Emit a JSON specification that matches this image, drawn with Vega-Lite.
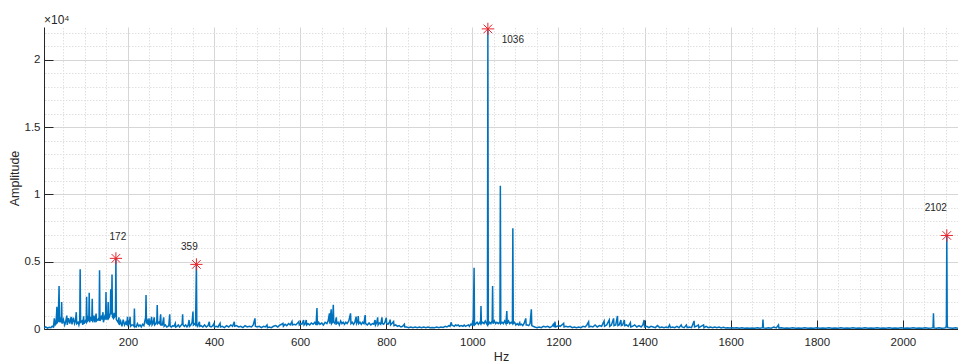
{
  "$schema": "https://vega.github.io/schema/vega-lite/v6.json",
  "width": 914,
  "height": 302,
  "autosize": {"type": "none"},
  "padding": {"left": 44, "top": 27, "right": 0, "bottom": 32},
  "background": "white",
  "title": {"text": "×10⁴", "anchor": "start", "frame": "group", "fontSize": 12, "fontWeight": "normal", "font": "Liberation Sans", "color": "#262626", "offset": -6},
  "config": {"view": {"stroke": null}, "font": "Liberation Sans"},
  "resolve": {"axis": {"x": "independent", "y": "independent"}},
  "datasets": {
    "spec": [
      {"f":5,"a":80},{"f":9,"a":150},{"f":13,"a":60},{"f":17,"a":120},{"f":21,"a":90},{"f":24,"a":200},{"f":27,"a":150},{"f":29,"a":800},{"f":31,"a":300},{"f":33,"a":400},{"f":35,"a":1650},{"f":36,"a":500},{"f":38,"a":600},{"f":40,"a":3200},{"f":41,"a":500},{"f":43,"a":700},{"f":45,"a":500},{"f":46,"a":2000},{"f":47,"a":400},{"f":50,"a":700},{"f":53,"a":300},{"f":55,"a":500},{"f":58,"a":1000},{"f":59,"a":300},{"f":62,"a":800},{"f":65,"a":400},{"f":68,"a":900},{"f":70,"a":350},{"f":73,"a":850},{"f":76,"a":400},{"f":78,"a":600},{"f":80,"a":1250},{"f":81,"a":400},{"f":84,"a":500},{"f":86,"a":300},{"f":88,"a":600},{"f":89,"a":4430},{"f":90,"a":500},{"f":93,"a":600},{"f":95,"a":300},{"f":97,"a":950},{"f":98,"a":400},{"f":101,"a":600},{"f":103,"a":500},{"f":104,"a":2400},{"f":105,"a":500},{"f":107,"a":800},{"f":109,"a":600},{"f":110,"a":2700},{"f":111,"a":500},{"f":114,"a":900},{"f":116,"a":600},{"f":117,"a":2250},{"f":118,"a":500},{"f":121,"a":1000},{"f":123,"a":500},{"f":126,"a":1150},{"f":127,"a":600},{"f":130,"a":700},{"f":132,"a":800},{"f":133,"a":600},{"f":134,"a":4360},{"f":135,"a":600},{"f":138,"a":900},{"f":140,"a":700},{"f":142,"a":1250},{"f":143,"a":500},{"f":146,"a":900},{"f":148,"a":700},{"f":149,"a":2750},{"f":150,"a":700},{"f":152,"a":1000},{"f":153,"a":700},{"f":154,"a":2000},{"f":155,"a":800},{"f":157,"a":900},{"f":159,"a":1200},{"f":160,"a":2950},{"f":161,"a":1100},{"f":162,"a":1200},{"f":163,"a":4050},{"f":164,"a":900},{"f":166,"a":800},{"f":168,"a":1200},{"f":169,"a":900},{"f":171,"a":1000},{"f":172,"a":5250},{"f":173,"a":700},{"f":175,"a":600},{"f":177,"a":500},{"f":179,"a":870},{"f":180,"a":300},{"f":183,"a":600},{"f":186,"a":200},{"f":189,"a":700},{"f":192,"a":300},{"f":195,"a":500},{"f":197,"a":300},{"f":199,"a":900},{"f":200,"a":300},{"f":203,"a":400},{"f":205,"a":900},{"f":206,"a":200},{"f":209,"a":300},{"f":212,"a":300},{"f":214,"a":200},{"f":215,"a":1530},{"f":216,"a":200},{"f":219,"a":150},{"f":222,"a":400},{"f":225,"a":200},{"f":228,"a":300},{"f":231,"a":150},{"f":234,"a":350},{"f":237,"a":250},{"f":240,"a":700},{"f":241,"a":600},{"f":242,"a":2520},{"f":243,"a":400},{"f":245,"a":600},{"f":247,"a":300},{"f":249,"a":800},{"f":250,"a":300},{"f":252,"a":400},{"f":255,"a":900},{"f":256,"a":300},{"f":258,"a":400},{"f":261,"a":870},{"f":262,"a":300},{"f":265,"a":400},{"f":267,"a":600},{"f":268,"a":1780},{"f":269,"a":400},{"f":272,"a":500},{"f":274,"a":400},{"f":276,"a":1100},{"f":277,"a":300},{"f":280,"a":300},{"f":283,"a":870},{"f":284,"a":200},{"f":287,"a":300},{"f":290,"a":150},{"f":293,"a":200},{"f":295,"a":300},{"f":297,"a":1100},{"f":298,"a":200},{"f":301,"a":150},{"f":304,"a":250},{"f":307,"a":200},{"f":310,"a":420},{"f":311,"a":150},{"f":314,"a":200},{"f":317,"a":300},{"f":320,"a":150},{"f":323,"a":250},{"f":326,"a":400},{"f":327,"a":1090},{"f":328,"a":300},{"f":331,"a":200},{"f":334,"a":300},{"f":337,"a":150},{"f":340,"a":300},{"f":342,"a":670},{"f":343,"a":200},{"f":346,"a":300},{"f":349,"a":500},{"f":351,"a":1290},{"f":352,"a":300},{"f":355,"a":400},{"f":357,"a":300},{"f":359,"a":4800},{"f":360,"a":300},{"f":362,"a":200},{"f":366,"a":540},{"f":367,"a":200},{"f":370,"a":250},{"f":374,"a":150},{"f":378,"a":300},{"f":382,"a":150},{"f":386,"a":250},{"f":389,"a":540},{"f":390,"a":200},{"f":393,"a":150},{"f":397,"a":250},{"f":400,"a":420},{"f":401,"a":150},{"f":405,"a":200},{"f":409,"a":150},{"f":414,"a":420},{"f":415,"a":150},{"f":419,"a":200},{"f":424,"a":100},{"f":429,"a":250},{"f":434,"a":150},{"f":439,"a":300},{"f":443,"a":200},{"f":447,"a":540},{"f":448,"a":200},{"f":452,"a":250},{"f":457,"a":150},{"f":462,"a":200},{"f":467,"a":100},{"f":472,"a":250},{"f":477,"a":150},{"f":482,"a":200},{"f":487,"a":150},{"f":491,"a":300},{"f":495,"a":790},{"f":496,"a":200},{"f":500,"a":150},{"f":505,"a":200},{"f":510,"a":100},{"f":515,"a":200},{"f":519,"a":150},{"f":523,"a":300},{"f":524,"a":100},{"f":528,"a":150},{"f":533,"a":100},{"f":538,"a":200},{"f":543,"a":250},{"f":548,"a":150},{"f":553,"a":300},{"f":557,"a":350},{"f":560,"a":420},{"f":561,"a":200},{"f":565,"a":350},{"f":569,"a":250},{"f":573,"a":400},{"f":577,"a":300},{"f":581,"a":550},{"f":582,"a":300},{"f":586,"a":350},{"f":590,"a":300},{"f":593,"a":400},{"f":597,"a":550},{"f":598,"a":300},{"f":601,"a":400},{"f":604,"a":350},{"f":608,"a":670},{"f":609,"a":300},{"f":612,"a":400},{"f":614,"a":670},{"f":615,"a":300},{"f":618,"a":400},{"f":622,"a":300},{"f":626,"a":450},{"f":630,"a":350},{"f":634,"a":500},{"f":637,"a":300},{"f":639,"a":1560},{"f":640,"a":300},{"f":643,"a":500},{"f":646,"a":350},{"f":650,"a":450},{"f":654,"a":300},{"f":658,"a":500},{"f":662,"a":400},{"f":665,"a":600},{"f":668,"a":1160},{"f":669,"a":400},{"f":672,"a":1460},{"f":673,"a":400},{"f":675,"a":500},{"f":677,"a":1800},{"f":678,"a":500},{"f":681,"a":400},{"f":684,"a":870},{"f":685,"a":400},{"f":688,"a":500},{"f":691,"a":300},{"f":694,"a":600},{"f":697,"a":400},{"f":700,"a":500},{"f":703,"a":350},{"f":706,"a":500},{"f":709,"a":400},{"f":713,"a":600},{"f":717,"a":1160},{"f":718,"a":400},{"f":721,"a":500},{"f":724,"a":350},{"f":727,"a":500},{"f":730,"a":920},{"f":731,"a":400},{"f":734,"a":600},{"f":735,"a":960},{"f":736,"a":400},{"f":739,"a":500},{"f":742,"a":350},{"f":745,"a":500},{"f":748,"a":400},{"f":751,"a":1030},{"f":752,"a":400},{"f":756,"a":300},{"f":760,"a":450},{"f":764,"a":300},{"f":768,"a":400},{"f":771,"a":350},{"f":774,"a":670},{"f":775,"a":300},{"f":778,"a":500},{"f":780,"a":870},{"f":781,"a":300},{"f":784,"a":450},{"f":787,"a":350},{"f":790,"a":870},{"f":791,"a":400},{"f":794,"a":350},{"f":797,"a":500},{"f":800,"a":840},{"f":801,"a":400},{"f":804,"a":350},{"f":808,"a":550},{"f":809,"a":700},{"f":810,"a":300},{"f":814,"a":450},{"f":817,"a":560},{"f":818,"a":250},{"f":822,"a":300},{"f":826,"a":200},{"f":830,"a":250},{"f":834,"a":150},{"f":838,"a":200},{"f":842,"a":350},{"f":843,"a":150},{"f":847,"a":150},{"f":852,"a":100},{"f":857,"a":150},{"f":862,"a":100},{"f":867,"a":150},{"f":872,"a":100},{"f":877,"a":150},{"f":882,"a":100},{"f":887,"a":150},{"f":892,"a":100},{"f":897,"a":150},{"f":902,"a":100},{"f":907,"a":120},{"f":912,"a":100},{"f":917,"a":150},{"f":922,"a":100},{"f":927,"a":150},{"f":932,"a":120},{"f":937,"a":200},{"f":941,"a":150},{"f":945,"a":250},{"f":948,"a":200},{"f":951,"a":500},{"f":952,"a":300},{"f":955,"a":250},{"f":958,"a":200},{"f":961,"a":300},{"f":964,"a":250},{"f":967,"a":300},{"f":970,"a":200},{"f":974,"a":250},{"f":978,"a":200},{"f":981,"a":300},{"f":984,"a":200},{"f":987,"a":250},{"f":991,"a":300},{"f":993,"a":200},{"f":996,"a":350},{"f":999,"a":300},{"f":1001,"a":600},{"f":1002,"a":250},{"f":1004,"a":4550},{"f":1005,"a":300},{"f":1008,"a":400},{"f":1011,"a":500},{"f":1014,"a":350},{"f":1017,"a":500},{"f":1019,"a":400},{"f":1020,"a":1710},{"f":1021,"a":400},{"f":1024,"a":500},{"f":1027,"a":400},{"f":1030,"a":600},{"f":1033,"a":400},{"f":1035,"a":300},{"f":1036,"a":22300},{"f":1037,"a":300},{"f":1040,"a":500},{"f":1043,"a":400},{"f":1046,"a":600},{"f":1047,"a":3200},{"f":1048,"a":400},{"f":1051,"a":600},{"f":1054,"a":400},{"f":1057,"a":500},{"f":1060,"a":400},{"f":1063,"a":500},{"f":1064,"a":400},{"f":1065,"a":10650},{"f":1066,"a":400},{"f":1069,"a":500},{"f":1072,"a":400},{"f":1075,"a":600},{"f":1078,"a":400},{"f":1080,"a":1340},{"f":1081,"a":400},{"f":1084,"a":600},{"f":1087,"a":400},{"f":1090,"a":500},{"f":1093,"a":400},{"f":1094,"a":7480},{"f":1095,"a":400},{"f":1098,"a":500},{"f":1101,"a":300},{"f":1104,"a":400},{"f":1107,"a":300},{"f":1110,"a":470},{"f":1111,"a":300},{"f":1114,"a":350},{"f":1117,"a":250},{"f":1120,"a":400},{"f":1124,"a":790},{"f":1125,"a":300},{"f":1128,"a":300},{"f":1131,"a":250},{"f":1134,"a":400},{"f":1137,"a":1460},{"f":1138,"a":250},{"f":1141,"a":200},{"f":1145,"a":150},{"f":1150,"a":100},{"f":1155,"a":150},{"f":1160,"a":100},{"f":1165,"a":200},{"f":1170,"a":150},{"f":1175,"a":200},{"f":1180,"a":100},{"f":1185,"a":200},{"f":1188,"a":350},{"f":1190,"a":150},{"f":1192,"a":540},{"f":1193,"a":150},{"f":1197,"a":200},{"f":1200,"a":250},{"f":1204,"a":200},{"f":1208,"a":300},{"f":1212,"a":420},{"f":1213,"a":150},{"f":1217,"a":200},{"f":1222,"a":150},{"f":1227,"a":200},{"f":1232,"a":100},{"f":1237,"a":150},{"f":1242,"a":100},{"f":1247,"a":150},{"f":1252,"a":100},{"f":1257,"a":200},{"f":1262,"a":150},{"f":1266,"a":300},{"f":1270,"a":540},{"f":1271,"a":150},{"f":1275,"a":200},{"f":1280,"a":150},{"f":1285,"a":300},{"f":1290,"a":150},{"f":1295,"a":250},{"f":1300,"a":200},{"f":1306,"a":590},{"f":1307,"a":200},{"f":1312,"a":300},{"f":1318,"a":670},{"f":1319,"a":200},{"f":1323,"a":300},{"f":1328,"a":790},{"f":1329,"a":250},{"f":1333,"a":300},{"f":1337,"a":970},{"f":1338,"a":250},{"f":1341,"a":300},{"f":1345,"a":670},{"f":1346,"a":250},{"f":1349,"a":300},{"f":1353,"a":670},{"f":1354,"a":250},{"f":1358,"a":300},{"f":1362,"a":200},{"f":1367,"a":470},{"f":1368,"a":150},{"f":1372,"a":200},{"f":1377,"a":300},{"f":1382,"a":150},{"f":1387,"a":250},{"f":1392,"a":150},{"f":1396,"a":300},{"f":1399,"a":670},{"f":1400,"a":150},{"f":1405,"a":200},{"f":1410,"a":100},{"f":1415,"a":200},{"f":1420,"a":150},{"f":1425,"a":100},{"f":1430,"a":250},{"f":1435,"a":100},{"f":1440,"a":150},{"f":1445,"a":100},{"f":1450,"a":150},{"f":1455,"a":100},{"f":1458,"a":300},{"f":1460,"a":100},{"f":1465,"a":150},{"f":1470,"a":100},{"f":1475,"a":200},{"f":1480,"a":100},{"f":1485,"a":300},{"f":1487,"a":150},{"f":1492,"a":100},{"f":1497,"a":300},{"f":1499,"a":100},{"f":1504,"a":150},{"f":1509,"a":100},{"f":1515,"a":600},{"f":1516,"a":150},{"f":1520,"a":200},{"f":1525,"a":300},{"f":1526,"a":100},{"f":1531,"a":200},{"f":1537,"a":300},{"f":1538,"a":100},{"f":1543,"a":200},{"f":1548,"a":100},{"f":1553,"a":150},{"f":1558,"a":100},{"f":1563,"a":150},{"f":1568,"a":100},{"f":1573,"a":150},{"f":1578,"a":80},{"f":1583,"a":120},{"f":1588,"a":80},{"f":1593,"a":100},{"f":1598,"a":80},{"f":1603,"a":100},{"f":1608,"a":80},{"f":1614,"a":100},{"f":1620,"a":60},{"f":1626,"a":100},{"f":1632,"a":60},{"f":1638,"a":80},{"f":1644,"a":60},{"f":1650,"a":80},{"f":1656,"a":60},{"f":1662,"a":100},{"f":1668,"a":60},{"f":1674,"a":100},{"f":1675,"a":700},{"f":1676,"a":80},{"f":1682,"a":60},{"f":1688,"a":100},{"f":1694,"a":60},{"f":1700,"a":150},{"f":1706,"a":80},{"f":1711,"a":300},{"f":1712,"a":80},{"f":1718,"a":100},{"f":1724,"a":60},{"f":1730,"a":80},{"f":1737,"a":60},{"f":1744,"a":100},{"f":1751,"a":60},{"f":1758,"a":80},{"f":1765,"a":60},{"f":1772,"a":100},{"f":1779,"a":60},{"f":1786,"a":80},{"f":1793,"a":60},{"f":1800,"a":100},{"f":1807,"a":60},{"f":1814,"a":80},{"f":1821,"a":60},{"f":1828,"a":100},{"f":1835,"a":60},{"f":1842,"a":80},{"f":1849,"a":60},{"f":1856,"a":100},{"f":1863,"a":60},{"f":1870,"a":80},{"f":1877,"a":60},{"f":1884,"a":100},{"f":1891,"a":60},{"f":1898,"a":80},{"f":1905,"a":60},{"f":1912,"a":100},{"f":1919,"a":60},{"f":1926,"a":80},{"f":1933,"a":60},{"f":1940,"a":100},{"f":1947,"a":60},{"f":1954,"a":80},{"f":1961,"a":60},{"f":1968,"a":100},{"f":1975,"a":60},{"f":1982,"a":80},{"f":1989,"a":60},{"f":1996,"a":100},{"f":2003,"a":60},{"f":2010,"a":80},{"f":2017,"a":60},{"f":2024,"a":100},{"f":2031,"a":60},{"f":2038,"a":80},{"f":2045,"a":60},{"f":2052,"a":100},{"f":2059,"a":60},{"f":2066,"a":80},{"f":2070,"a":100},{"f":2071,"a":1160},{"f":2072,"a":80},{"f":2078,"a":60},{"f":2084,"a":100},{"f":2090,"a":60},{"f":2096,"a":80},{"f":2100,"a":100},{"f":2101,"a":300},{"f":2102,"a":6950},{"f":2103,"a":300},{"f":2104,"a":100},{"f":2110,"a":80},{"f":2116,"a":60},{"f":2122,"a":100},{"f":2128,"a":60}
    ],
    "peaks": [
      {"f":172,"a":5250,"label":"172"},
      {"f":359,"a":4800,"label":"359"},
      {"f":1036,"a":22300,"label":"1036"},
      {"f":2102,"a":6950,"label":"2102"}
    ]
  },
  "layer": [
    {
      "data": {"name": "spec"},
      "mark": {"type": "line", "color": "#0072BD", "strokeWidth": 1.5, "clip": true},
      "encoding": {
        "x": {
          "field": "f", "type": "quantitative",
          "scale": {"domain": [5, 2128], "nice": false, "zero": false},
          "axis": {
            "orient": "bottom",
            "title": "Hz",
            "values": [200,400,600,800,1000,1200,1400,1600,1800,2000],
            "format": "d",
            "labelOverlap": false,
            "labelFontSize": 11.5, "labelColor": "#262626", "labelFont": "Liberation Sans",
            "labelPadding": 16,
            "tickSize": -9, "tickColor": "#262626",
            "domainColor": "#262626",
            "grid": true, "gridColor": "#d6d6d6",
            "titleFontSize": 12.5, "titleFontWeight": "normal", "titleColor": "#262626", "titleFont": "Liberation Sans",
            "titlePadding": 3
          }
        },
        "y": {
          "field": "a", "type": "quantitative",
          "scale": {"domain": [0, 22440], "nice": false},
          "axis": {
            "orient": "left",
            "title": "Amplitude",
            "values": [0,5000,10000,15000,20000],
            "labelExpr": "'' + (datum.value / 10000)",
            "labelOverlap": false,
            "labelFontSize": 11.5, "labelColor": "#262626", "labelFont": "Liberation Sans",
            "labelPadding": 13,
            "tickSize": -9, "tickColor": "#262626",
            "domainColor": "#262626",
            "grid": true, "gridColor": "#d6d6d6",
            "titleFontSize": 12.5, "titleFontWeight": "normal", "titleColor": "#262626", "titleFont": "Liberation Sans",
            "titlePadding": 3
          }
        }
      }
    },
    {
      "data": {"name": "peaks"},
      "mark": {"type": "point", "shape": "M-1,0L1,0M0,-1L0,1M-0.7,-0.7L0.7,0.7M-0.7,0.7L0.7,-0.7", "size": 150, "stroke": "#e8242b", "strokeWidth": 1, "filled": false, "opacity": 1},
      "encoding": {
        "x": {
          "field": "f", "type": "quantitative",
          "axis": {
            "orient": "top",
            "values": [50,100,150,250,300,350,450,500,550,650,700,750,850,900,950,1050,1100,1150,1250,1300,1350,1450,1500,1550,1650,1700,1750,1850,1900,1950,2050,2100],
            "labels": false, "ticks": false, "domain": false, "title": null,
            "grid": true, "gridColor": "#e0e0e0", "gridDash": [1.5, 1.5]
          }
        },
        "y": {
          "field": "a", "type": "quantitative",
          "axis": {
            "orient": "right",
            "values": [1000,2000,3000,4000,6000,7000,8000,9000,11000,12000,13000,14000,16000,17000,18000,19000,21000,22000],
            "labels": false, "ticks": false, "domain": false, "title": null,
            "grid": true, "gridColor": "#e0e0e0", "gridDash": [1.5, 1.5]
          }
        }
      }
    },
    {
      "data": {"name": "peaks"},
      "transform": [{"filter": "datum.label === '172'"}],
      "mark": {"type": "text", "dx": 2, "dy": -21, "fontSize": 10, "font": "Liberation Sans", "color": "#262626"},
      "encoding": {"x": {"field": "f", "type": "quantitative", "axis": null}, "y": {"field": "a", "type": "quantitative", "axis": null}, "text": {"field": "label"}}
    },
    {
      "data": {"name": "peaks"},
      "transform": [{"filter": "datum.label === '359'"}],
      "mark": {"type": "text", "dx": -7, "dy": -17, "fontSize": 10, "font": "Liberation Sans", "color": "#262626"},
      "encoding": {"x": {"field": "f", "type": "quantitative", "axis": null}, "y": {"field": "a", "type": "quantitative", "axis": null}, "text": {"field": "label"}}
    },
    {
      "data": {"name": "peaks"},
      "transform": [{"filter": "datum.label === '1036'"}],
      "mark": {"type": "text", "dx": 25, "dy": 11, "fontSize": 10, "font": "Liberation Sans", "color": "#262626"},
      "encoding": {"x": {"field": "f", "type": "quantitative", "axis": null}, "y": {"field": "a", "type": "quantitative", "axis": null}, "text": {"field": "label"}}
    },
    {
      "data": {"name": "peaks"},
      "transform": [{"filter": "datum.label === '2102'"}],
      "mark": {"type": "text", "dx": -11, "dy": -27, "fontSize": 10, "font": "Liberation Sans", "color": "#262626"},
      "encoding": {"x": {"field": "f", "type": "quantitative", "axis": null}, "y": {"field": "a", "type": "quantitative", "axis": null}, "text": {"field": "label"}}
    }
  ]
}
